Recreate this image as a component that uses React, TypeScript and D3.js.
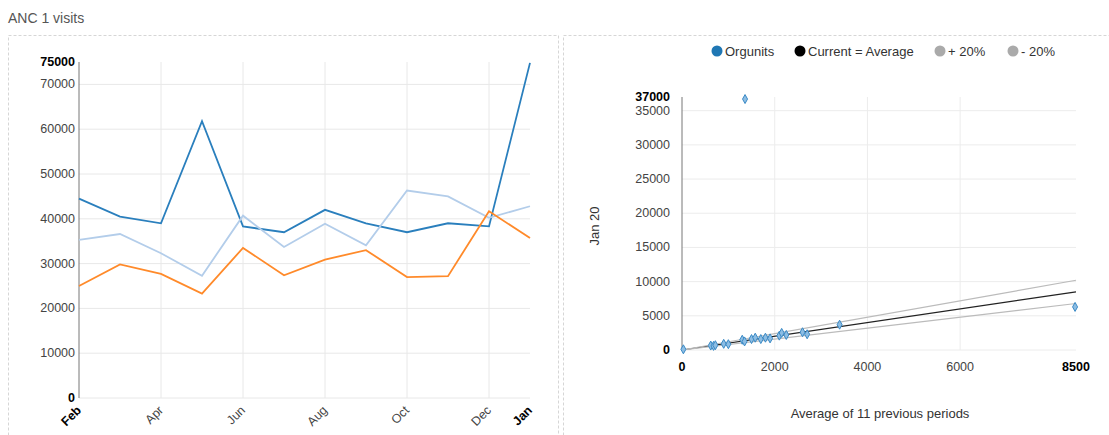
import React from "react";
import * as d3 from "d3";

// Monthly ANC 1 visits, Feb through Jan
const months = ["Feb", "Mar", "Apr", "May", "Jun", "Jul", "Aug", "Sep", "Oct", "Nov", "Dec", "Jan"];
const seriesA = [44500, 40500, 39000, 61800, 38300, 37000, 42000, 39000, 37000, 39000, 38300, 74800];
const seriesB = [35300, 36600, 32300, 27300, 40700, 33700, 38900, 34100, 46300, 45000, 40200, 42800];
const seriesC = [25000, 29800, 27700, 23300, 33500, 27400, 30900, 33000, 27000, 27200, 41700, 35700];
const seriesColors = ["#2a7fbd", "#b3cdea", "#ff8a2a"];
const lineTicks = [0, 10000, 20000, 30000, 40000, 50000, 60000, 70000];
const lineMax = 75000;
const shownMonths = ["Feb", "Apr", "Jun", "Aug", "Oct", "Dec", "Jan"];

// Org units: average of 11 previous periods vs Jan 20 value
const orgAvg = [30, 620, 680, 720, 900, 1000, 1300, 1350, 1500, 1580, 1700, 1800, 1900, 2100, 2150, 2250, 2600, 2700, 3400, 8480, 1360];
const orgCur = [100, 650, 600, 700, 900, 850, 1500, 1250, 1600, 1800, 1600, 1800, 1700, 2100, 2500, 2200, 2600, 2300, 3700, 6300, 36700];
const scatterYTicks = [0, 5000, 10000, 15000, 20000, 25000, 30000, 35000, 37000];
const scatterXTicks = [0, 2000, 4000, 6000, 8500];
const xMax = 8500;
const yMax = 37000;
const refFactors = [1, 1.2, 0.8];
const legendItems = ["Orgunits", "Current = Average", "+ 20%", "- 20%"];
const legendColors = ["#1f77b4", "#000000", "#aaaaaa", "#aaaaaa"];

const FONT = "'Liberation Sans', Arial, sans-serif";

export default function App() {
  // Line chart scales
  const lx = d3.scalePoint<string>().domain(months).range([79, 530]);
  const ly = d3.scaleLinear().domain([0, lineMax]).range([398, 62]);
  const line = d3
    .line<number>()
    .x((_, i) => lx(months[i]) as number)
    .y((d) => ly(d));
  const series = [seriesA, seriesB, seriesC];

  // Scatter chart scales
  const sx = d3.scaleLinear().domain([0, xMax]).range([682, 1076]);
  const sy = d3.scaleLinear().domain([0, yMax]).range([350, 97]);

  const diamond = (cx: number, cy: number) =>
    `M${cx},${cy - 4.5}L${cx + 2.5},${cy}L${cx},${cy + 4.5}L${cx - 2.5},${cy}Z`;

  const legendX = [717, 800, 940, 1013];

  return (
    <div style={{ position: "absolute", left: 0, top: 0 }}>
      <svg width={1109} height={435} style={{ display: "block", fontFamily: FONT }}>
        <rect width={1109} height={435} fill="#fff" />
        <text x={8} y={23} fontSize={14} fill="#555">ANC 1 visits</text>

        {/* panel frames */}
        <rect x={8.5} y={35.5} width={550} height={420} fill="none" stroke="#d6d6d6" strokeDasharray="3,2" />
        <rect x={563.5} y={35.5} width={560} height={420} fill="none" stroke="#d6d6d6" strokeDasharray="3,2" />

        {/* line chart grid */}
        {lineTicks.map((t) => (
          <line key={"lg" + t} x1={79} x2={530} y1={ly(t)} y2={ly(t)} stroke="#e8e8e8" />
        ))}
        {shownMonths.slice(1, -1).map((m) => (
          <line key={"lv" + m} x1={lx(m)} x2={lx(m)} y1={62} y2={398} stroke="#e8e8e8" />
        ))}
        <line x1={79} x2={79} y1={62} y2={398} stroke="#777" />

        {lineTicks.map((t) => (
          <text key={"lt" + t} x={75} y={ly(t) + 4} fontSize={12.5} textAnchor="end" fill={t === 0 ? "#000" : "#444"} fontWeight={t === 0 ? "bold" : "normal"}>
            {t}
          </text>
        ))}
        <text x={75} y={ly(lineMax) + 4} fontSize={12.5} textAnchor="end" fill="#000" fontWeight="bold">
          {lineMax}
        </text>
        {shownMonths.map((m, i) => {
          const bold = i === 0 || i === shownMonths.length - 1;
          const x = lx(m) as number;
          return (
            <text
              key={"lx" + m}
              transform={`translate(${x + 3},${411}) rotate(-45)`}
              fontSize={12.5}
              textAnchor="end"
              fill={bold ? "#000" : "#444"}
              fontWeight={bold ? "bold" : "normal"}
            >
              {m}
            </text>
          );
        })}

        {series.map((s, i) => (
          <path key={"ls" + i} d={line(s) || ""} fill="none" stroke={seriesColors[i]} strokeWidth={1.8} />
        ))}

        {/* scatter legend */}
        {legendItems.map((l, i) => (
          <g key={"lg" + l}>
            <circle cx={legendX[i]} cy={51} r={5.5} fill={legendColors[i]} />
            <text x={legendX[i] + 8} y={55.5} fontSize={13} fill="#333">{l}</text>
          </g>
        ))}

        {/* scatter grid */}
        {scatterYTicks.slice(0, -1).map((t) => (
          <line key={"sg" + t} x1={682} x2={1076} y1={sy(t)} y2={sy(t)} stroke="#ececec" />
        ))}
        {scatterXTicks.slice(1, -1).map((t) => (
          <line key={"sv" + t} x1={sx(t)} x2={sx(t)} y1={97} y2={350} stroke="#ececec" />
        ))}
        <line x1={682} x2={682} y1={97} y2={350} stroke="#777" />

        {scatterYTicks.map((t, i) => {
          const bold = i === 0 || i === scatterYTicks.length - 1;
          return (
            <text key={"st" + t} x={670} y={sy(t) + 4} fontSize={12.5} textAnchor="end" fill={bold ? "#000" : "#444"} fontWeight={bold ? "bold" : "normal"}>
              {t}
            </text>
          );
        })}
        {scatterXTicks.map((t, i) => {
          const bold = i === 0 || i === scatterXTicks.length - 1;
          return (
            <text key={"sx" + t} x={sx(t)} y={371} fontSize={12.5} textAnchor="middle" fill={bold ? "#000" : "#444"} fontWeight={bold ? "bold" : "normal"}>
              {t}
            </text>
          );
        })}

        <text transform={`translate(599,226) rotate(-90)`} fontSize={13} textAnchor="middle" fill="#333">Jan 20</text>
        <text x={880} y={418} fontSize={13} textAnchor="middle" fill="#333">Average of 11 previous periods</text>

        {/* reference lines */}
        {refFactors.map((f, i) => (
          <line
            key={"rf" + i}
            x1={sx(0)}
            y1={sy(0)}
            x2={sx(xMax)}
            y2={sy(xMax * f)}
            stroke={i === 0 ? "#222" : "#bbb"}
            strokeWidth={1.2}
          />
        ))}

        {/* org unit points */}
        {orgAvg.map((a, i) => (
          <path key={"pt" + i} d={diamond(sx(a), sy(orgCur[i]))} fill="#8dbde3" stroke="#3a8ac6" strokeWidth={1} />
        ))}
      </svg>
    </div>
  );
}
